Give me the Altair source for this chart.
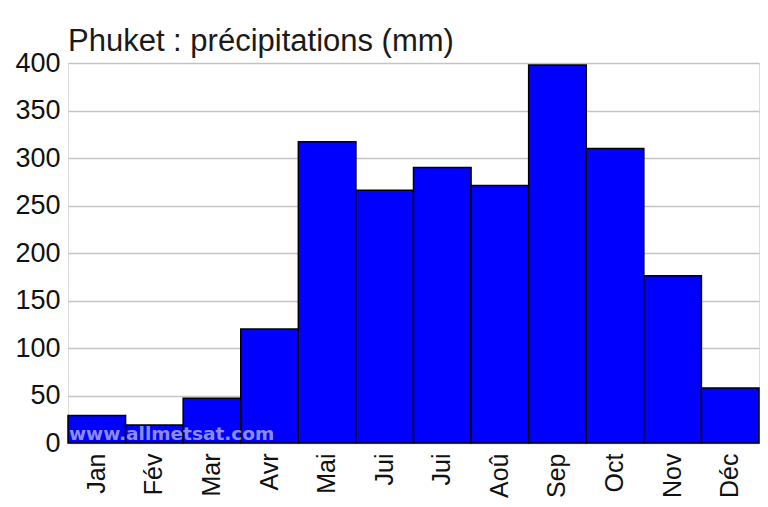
import json
import altair as alt
import pandas as pd

months = ["Jan", "Fév", "Mar", "Avr", "Mai", "Jui", "Jui", "Aoû", "Sep", "Oct", "Nov", "Déc"]
precip = [29, 19, 47, 120, 317, 266, 290, 271, 398, 310, 176, 58]
y_ticks = [0, 50, 100, 150, 200, 250, 300, 350, 400]
title_text = "Phuket : précipitations (mm)"
watermark = "www.allmetsat.com"

df = pd.DataFrame({"idx": list(range(len(months))), "month": months, "mm": precip})
label_expr = json.dumps(months) + "[datum.value]"

FONT = "Liberation Sans"

bars = alt.Chart(df).mark_bar(
    color="#0000FF", stroke="black", strokeWidth=1.5
).encode(
    x=alt.X("idx:O", title=None,
            scale=alt.Scale(paddingInner=0, paddingOuter=0),
            axis=alt.Axis(labelExpr=label_expr, labelAngle=-90, labelAlign="right",
                          labelBaseline="middle", labelPadding=10, ticks=False,
                          domain=False, labelFontSize=25, labelFont=FONT,
                          labelColor="#111")),
    y=alt.Y("mm:Q", title=None,
            scale=alt.Scale(domain=[0, 400], nice=False, zero=True),
            axis=alt.Axis(values=y_ticks, ticks=False, domain=False, grid=True,
                          gridColor="#c4c4c4", gridWidth=1.5, labelPadding=8,
                          labelFontSize=27, labelFont=FONT, labelColor="#111",
                          minExtent=60, maxExtent=60)),
)

wm = alt.Chart(pd.DataFrame({"t": [watermark]})).mark_text(
    align="left", baseline="alphabetic", font="DejaVu Sans", fontSize=18.5,
    fontWeight="bold", color="#c8c8dc", opacity=0.7
).encode(text="t:N", x=alt.value(1), y=alt.value(377))

chart = (bars + wm).properties(
    width=691, height=380,
    title=alt.TitleParams(title_text, anchor="start", frame="group", fontSize=31,
                          font=FONT, fontWeight="normal", color="#1a1a1a", offset=-9),
    padding={"left": 0, "top": 18, "right": 0, "bottom": 0},
).configure_view(stroke="black", strokeWidth=2).configure(background="white")

chart.save("out.html", embed_options={"renderer": "svg", "actions": False})
